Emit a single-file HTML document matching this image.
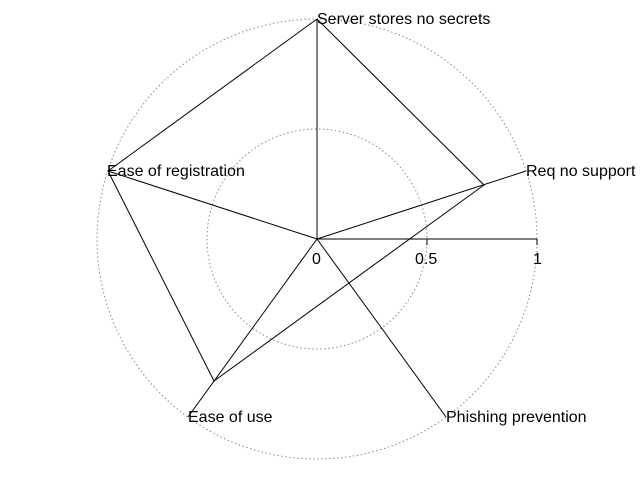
<!DOCTYPE html>
<html><head><style>body{margin:0;background:#fff}svg{display:block}text{font-family:"Liberation Sans",sans-serif;font-size:16px;fill:#000}</style></head>
<body><svg width="640" height="480" xmlns="http://www.w3.org/2000/svg">
<rect width="640" height="480" fill="#fff"/>
<circle cx="317" cy="239" r="220" fill="none" stroke="#888" stroke-dasharray="1.5,2.5"/>
<circle cx="317" cy="239" r="110" fill="none" stroke="#888" stroke-dasharray="1.5,2.5"/>
<g stroke="#000" stroke-width="1" fill="none">
<line x1="317" y1="239" x2="537" y2="239"/>
<line x1="427" y1="239" x2="427" y2="245"/>
<line x1="537" y1="239" x2="537" y2="245"/>
<line x1="317" y1="239" x2="317" y2="19"/>
<line x1="317" y1="239" x2="526" y2="171"/>
<line x1="317" y1="239" x2="108" y2="171"/>
<line x1="317" y1="239" x2="188" y2="417"/>
<line x1="317" y1="239" x2="446" y2="417"/>
<polyline points="317,19 484,185 214,381 108,171 317,19"/>
</g>
<text x="312" y="264">0</text>
<text x="415" y="264">0.5</text>
<text x="533" y="264">1</text>
<text x="317" y="24">Server stores no secrets</text>
<text x="526" y="176">Req no support</text>
<text x="107" y="176">Ease of registration</text>
<text x="188" y="422">Ease of use</text>
<text x="446" y="422">Phishing prevention</text>
</svg></body></html>
